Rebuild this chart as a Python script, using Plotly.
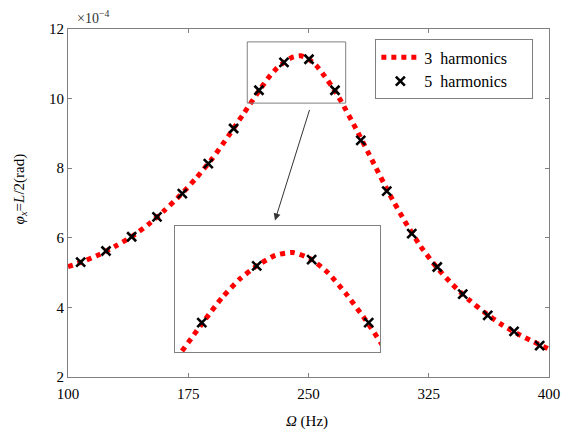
import plotly.graph_objects as go

# 3 harmonics curve, x10^-4 rad
omega_curve = [100, 110, 120, 130, 140, 150, 160, 170, 180, 190, 200, 210, 220, 225, 230, 235,
               240, 245, 250, 255, 260, 265, 270, 280, 290, 300, 310, 320, 330, 340, 350,
               360, 370, 380, 390, 400]
phi_curve = [5.17, 5.33, 5.53, 5.77, 6.04, 6.38, 6.78, 7.22, 7.72, 8.28, 8.92, 9.60, 10.28, 10.60, 10.86, 11.05,
             11.19, 11.23, 11.14, 10.94, 10.65, 10.32, 9.95, 9.10, 8.20, 7.30, 6.48, 5.75, 5.15, 4.65, 4.22,
             3.85, 3.52, 3.25, 3.02, 2.80]

# 5 harmonics points
omega_pts = [107.9, 123.7, 139.7, 155.5, 171.3, 187.5, 203.3, 219.1, 234.7, 250.3, 266.5,
             282.6, 298.8, 314.4, 330.3, 346.2, 361.8, 378.2, 394.2]
phi_pts = [5.30, 5.62, 6.03, 6.60, 7.27, 8.13, 9.14, 10.24, 11.04, 11.13, 10.24,
           8.80, 7.34, 6.12, 5.16, 4.38, 3.77, 3.31, 2.90]

x_ticks = [100, 175, 250, 325, 400]
y_ticks = [2, 4, 6, 8, 10, 12]

zoom_x = [211.8, 273.2]
zoom_y = [9.87, 11.63]
inset_x = [211.5, 269.7]
inset_y = [9.82, 11.60]

FONT = "Liberation Serif"
GRAY = "#808080"
RED = "#ff0000"

fig = go.Figure()

line_style = dict(color=RED, width=5, dash="dot", shape="spline", smoothing=0.6)
marker_style = dict(symbol="x-thin", size=9, color="black", line=dict(color="black", width=2.6))

fig.add_trace(go.Scatter(x=omega_curve, y=phi_curve, mode="lines", line=line_style,
                         name="3\u00a0\u00a0harmonics\u00a0\u00a0\u00a0\u00a0\u00a0", xaxis="x", yaxis="y"))
fig.add_trace(go.Scatter(x=omega_pts, y=phi_pts, mode="markers", marker=marker_style,
                         name="5\u00a0\u00a0harmonics\u00a0\u00a0\u00a0\u00a0\u00a0", xaxis="x", yaxis="y"))
fig.add_trace(go.Scatter(x=omega_curve, y=phi_curve, mode="lines", line=line_style,
                         showlegend=False, xaxis="x2", yaxis="y2"))
fig.add_trace(go.Scatter(x=omega_pts, y=phi_pts, mode="markers", marker=marker_style,
                         showlegend=False, xaxis="x2", yaxis="y2", cliponaxis=True))

axis_common = dict(showgrid=False, zeroline=False, showline=True, linecolor=GRAY, linewidth=1,
                   mirror="allticks", ticks="inside", ticklen=4, tickcolor=GRAY, tickwidth=1,
                   automargin=False, tickfont=dict(family=FONT, size=15, color="black"))

fig.update_layout(
    width=573, height=434,
    margin=dict(l=68, r=24, t=29, b=57),
    paper_bgcolor="white", plot_bgcolor="white",
    font=dict(family=FONT, size=15, color="black"),
    xaxis=dict(range=[100, 400], tickvals=x_ticks, ticktext=[str(v) for v in x_ticks],
               domain=[0, 1], ticklabelstandoff=3, **axis_common),
    yaxis=dict(range=[2, 12], tickvals=y_ticks, ticktext=[str(v) for v in y_ticks],
               domain=[0, 1], **axis_common),
    xaxis2=dict(range=inset_x, domain=[0.2225, 0.6486], anchor="y2", showgrid=False, zeroline=False,
                showline=True, linecolor=GRAY, linewidth=1, mirror=True, ticks="", showticklabels=False),
    yaxis2=dict(range=inset_y, domain=[0.071, 0.433], anchor="x2", showgrid=False, zeroline=False,
                showline=True, linecolor=GRAY, linewidth=1, mirror=True, ticks="", showticklabels=False),
    legend=dict(x=0.639, y=0.970, xanchor="left", yanchor="top", bgcolor="white",
                bordercolor=GRAY, borderwidth=1, font=dict(family=FONT, size=16),
                itemwidth=38),
    showlegend=True,
)

fig.add_shape(type="rect", xref="x", yref="y", x0=zoom_x[0], x1=zoom_x[1], y0=zoom_y[0], y1=zoom_y[1],
              line=dict(color=GRAY, width=1), fillcolor="rgba(0,0,0,0)")

fig.add_annotation(x=229.1, y=6.50, xref="x", yref="y", ax=35, ay=-112, axref="pixel", ayref="pixel",
                   showarrow=True, arrowhead=2, arrowsize=1.4, arrowwidth=1, arrowcolor="#333333", text="")

fig.add_annotation(x=0.0146, y=1.034, xref="paper", yref="paper", xanchor="left", yanchor="middle",
                   text="×10<sup>−4</sup>", showarrow=False, font=dict(family=FONT, size=14, color="#333333"))

fig.add_annotation(x=-0.0998, y=0.542, xref="paper", yref="paper", xanchor="center", yanchor="middle",
                   textangle=-90, text="<i>φ<sub>x</sub></i>=<i>L</i>/2(rad)", showarrow=False,
                   font=dict(family=FONT, size=15, color="black"))

fig.add_annotation(x=0.496, y=-0.129, xref="paper", yref="paper", xanchor="center", yanchor="middle",
                   text="<i>Ω</i> (Hz)", showarrow=False, font=dict(family=FONT, size=15, color="black"))

fig.write_html("out.html")
